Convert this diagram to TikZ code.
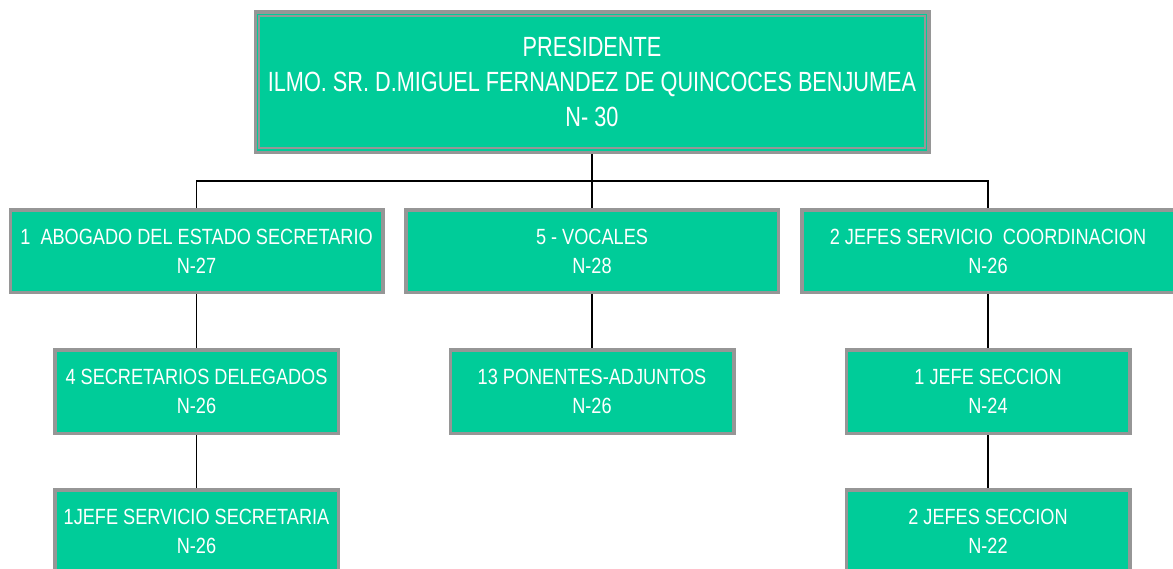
\documentclass[tikz,border=0pt]{standalone}
\usepackage{fontspec}
\newfontfamily\topfont[FakeStretch=0.78]{Liberation Sans}
\newfontfamily\boxfont[FakeStretch=0.825]{Liberation Sans}
\usetikzlibrary{backgrounds}
\definecolor{boxgreen}{RGB}{0,204,153}
\definecolor{bordergray}{RGB}{150,150,150}
\begin{document}
\begin{tikzpicture}[x=1pt,y=-1pt,
  orgbox/.style={draw=bordergray, line width=3.5pt, fill=boxgreen, text=white,
    align=center, inner sep=0pt, font={\boxfont\fontsize{22pt}{29pt}\selectfont}},
  topbox/.style={orgbox, minimum width=673.5pt, minimum height=140.5pt,
    font={\topfont\fontsize{27.8pt}{34.7pt}\selectfont}},
  widebox/.style={orgbox, minimum width=372.5pt, minimum height=82.5pt},
  smallbox/.style={orgbox, minimum width=283.5pt, minimum height=83.5pt},
  innerline/.style={draw=bordergray, line width=2pt},
  link/.style={draw=black, line width=1.6pt}
]
\useasboundingbox (0,0) rectangle (1173,568);
\clip (0,0) rectangle (1173,568);

\node[topbox] (pres) at (592,82) {PRESIDENTE\\ILMO. SR. D.MIGUEL FERNANDEZ DE QUINCOCES BENJUMEA\\N- 30};
\draw[innerline] ([shift={(5.75,5.75)}]pres.north west) rectangle ([shift={(-5.75,-5.75)}]pres.south east);

\node[widebox] (abog) at (196.5,251) {1~ ABOGADO DEL ESTADO SECRETARIO\\N-27};
\node[widebox] (voc) at (592,251) {5 - VOCALES\\N-28};
\node[widebox] (jefserv) at (988,251) {2 JEFES SERVICIO~ COORDINACION\\N-26};

\node[smallbox] (secdel) at (196.5,391.5) {4 SECRETARIOS DELEGADOS\\N-26};
\node[smallbox] (pon) at (592,391.5) {13 PONENTES-ADJUNTOS\\N-26};
\node[smallbox] (jefsec) at (988,391.5) {1 JEFE SECCION\\N-24};

\node[smallbox] (jefsecr) at (196.5,531.5) {1JEFE SERVICIO SECRETARIA\\N-26};
\node[smallbox] (jefsecs) at (988,531.5) {2 JEFES SECCION\\N-22};

\coordinate (bus) at (592,181);

\begin{pgfonlayer}{background}
\draw[link] (pres.south) -- (bus);
\draw[link] (abog.north) |- (bus) -| (jefserv.north);
\draw[link] (bus) -- (voc.north);
\draw[link] (abog.south) -- (secdel.north);
\draw[link] (secdel.south) -- (jefsecr.north);
\draw[link] (voc.south) -- (pon.north);
\draw[link] (jefserv.south) -- (jefsec.north);
\draw[link] (jefsec.south) -- (jefsecs.north);
\end{pgfonlayer}
\end{tikzpicture}
\end{document}
